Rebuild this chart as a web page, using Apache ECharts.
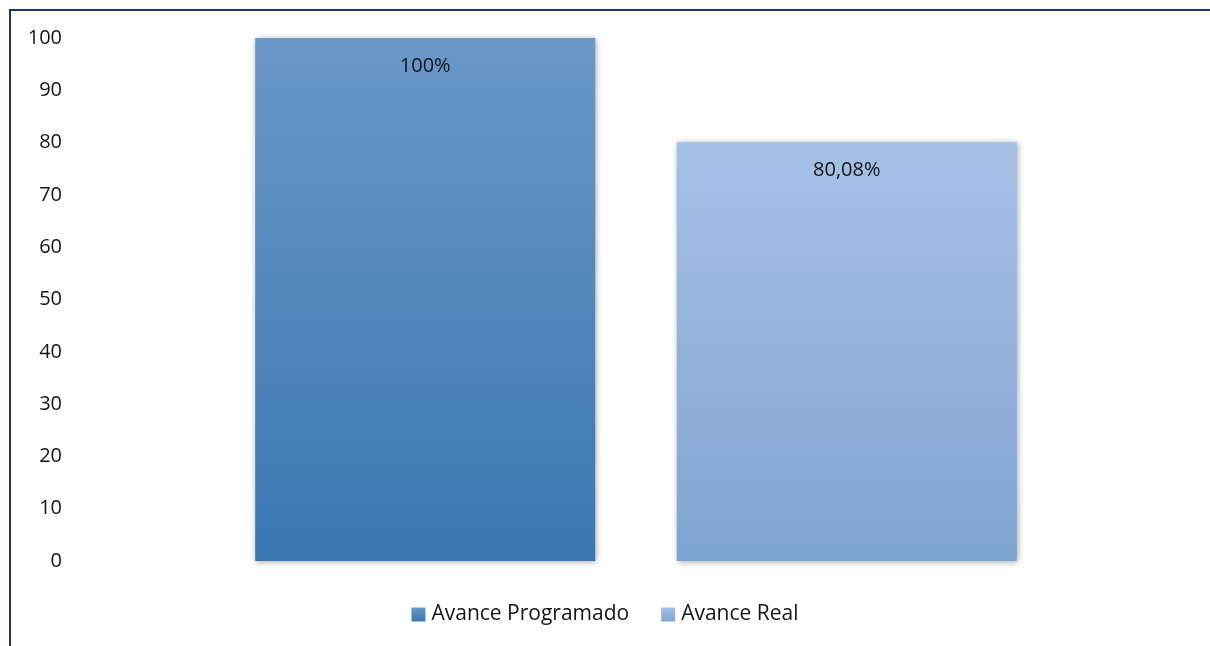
<!DOCTYPE html>
<html>
<head>
<meta charset="utf-8">
<script src="https://cdn.jsdelivr.net/npm/echarts@6/dist/echarts.min.js"></script>
<style>
  html, body { margin: 0; padding: 0; background: #ffffff; overflow: hidden; }
  #frame {
    position: absolute; left: 9px; top: 9px; width: 1300px; height: 700px;
    border-left: 2px solid #1c3470; border-top: 2px solid #1c3470;
    box-sizing: border-box;
  }
  #chart { position: absolute; left: 0; top: 0; width: 1210px; height: 646px; }
</style>
</head>
<body>
<div id="frame"></div>
<div id="chart"></div>
<script>
// Progress figures (percent)
const categories = ['Avance'];
const seriesNames = ['Avance Programado', 'Avance Real'];
const programado = [100];
const real = [80.08];
const valueLabels = ['100%', '80,08%'];
const yTicks = [0, 10, 20, 30, 40, 50, 60, 70, 80, 90, 100];

const font = '"Open Sans", "Noto Sans", sans-serif';

function grad(top, bottom) {
  return new echarts.graphic.LinearGradient(0, 0, 0, 1, [
    { offset: 0, color: top },
    { offset: 1, color: bottom }
  ]);
}

const shadow = {
  shadowBlur: 6,
  shadowColor: 'rgba(0,0,0,0.35)',
  shadowOffsetX: 1,
  shadowOffsetY: 1
};

const chart = echarts.init(document.getElementById('chart'), null, { renderer: 'canvas' });

chart.setOption({
  animation: false,
  grid: { left: 70, right: 8, top: 38, bottom: 85, containLabel: false },
  legend: {
    bottom: 16,
    left: 'center',
    itemWidth: 14,
    itemHeight: 14,
    itemGap: 32,
    icon: 'rect',
    textStyle: { fontFamily: font, fontSize: 21, color: '#141414', padding: [0, 0, 0, 1] },
    data: seriesNames
  },
  xAxis: {
    type: 'category',
    data: categories,
    axisLine: { show: false },
    axisTick: { show: false },
    axisLabel: { show: false }
  },
  yAxis: {
    type: 'value',
    min: yTicks[0],
    max: yTicks[yTicks.length - 1],
    interval: 10,
    splitLine: { show: false },
    axisLine: { show: false },
    axisTick: { show: false },
    axisLabel: { fontFamily: font, fontSize: 20, color: '#141414', margin: 8 }
  },
  series: [
    {
      name: seriesNames[0],
      type: 'bar',
      data: programado,
      barWidth: 340,
      barGap: '24%',
      itemStyle: Object.assign({ color: grad('#6a98c8', '#3a77b0') }, shadow),
      label: {
        show: true, position: 'insideTop', distance: 18,
        formatter: () => valueLabels[0],
        fontFamily: font, fontSize: 20, color: '#141414'
      }
    },
    {
      name: seriesNames[1],
      type: 'bar',
      data: real,
      barWidth: 340,
      itemStyle: Object.assign({ color: grad('#a5c1e6', '#80a4d2') }, shadow),
      label: {
        show: true, position: 'insideTop', distance: 18,
        formatter: () => valueLabels[1],
        fontFamily: font, fontSize: 20, color: '#141414'
      }
    }
  ]
});
</script>
</body>
</html>
